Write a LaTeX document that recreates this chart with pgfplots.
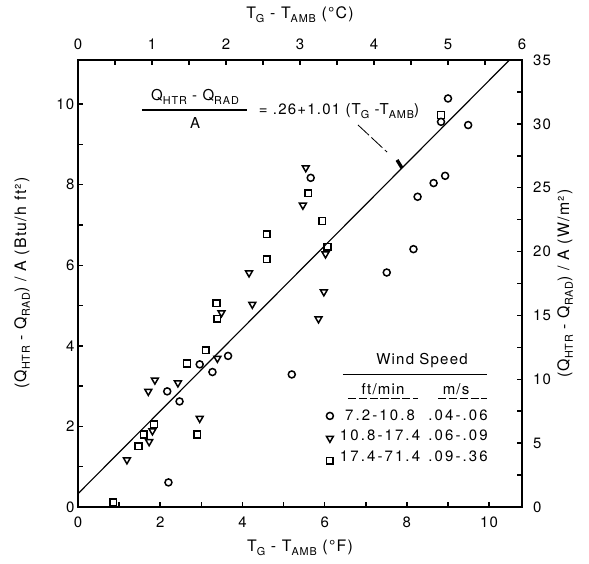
\documentclass[border=0pt]{standalone}
\usepackage{fontspec}
\setmainfont{TeX Gyre Heros}[LetterSpace=8]
\usepackage{pgfplots}
\pgfplotsset{compat=1.18}

\newcommand{\sub}[1]{\raisebox{-0.45ex}{\fontsize{6.5}{7}\selectfont #1}}
\newcommand{\fs}{\fontsize{9}{10}\selectfont}
\newcommand{\wide}{\addfontfeature{LetterSpace=14}}

\pgfplotsset{
  common/.style={
    scale only axis, width=266.4pt, height=268.2pt,
    tick align=inside, major tick length=3.2pt, minor tick length=3.2pt,
    every tick/.style={black, line width=0.9pt},
    axis line style={line width=1.2pt},
    tick label style={font=\fs},
    label style={font=\fontsize{9.5}{11}\selectfont},
    /pgf/number format/assume math mode=true,
  },
}

\begin{document}
\begin{tikzpicture}
% upper and right scales (deg C, W/m2)
\begin{axis}[common,
  xmin=0, xmax=6, ymin=0, ymax=35,
  xtick={0,...,6}, minor xtick={0.5,1.5,...,5.5},
  ytick={0,5,...,35}, minor ytick={2.5,7.5,...,32.5},
  xtick pos=right, ytick pos=right,
  xticklabel pos=right, yticklabel pos=right,
  xticklabel style={inner sep=0pt, anchor=south, yshift=6pt},
  yticklabel style={inner sep=0pt, anchor=west, xshift=6.5pt},
  xlabel={T\sub{G} - T\sub{AMB} (°C)},
  ylabel={(Q\sub{HTR} - Q\sub{RAD}) / A (W/m²)},
  xlabel style={at={(rel axis cs:0.5,1.1007)}, anchor=center},
  ylabel style={at={(rel axis cs:1.0968,0.50)}, anchor=center},
]
\end{axis}

% main scales (deg F, Btu/h ft2)
\begin{axis}[common,
  xmin=0, xmax=10.8, ymin=0, ymax=11.095,
  xtick={0,2,...,10}, minor xtick={1,3,...,9},
  ytick={0,2,...,10}, minor ytick={1,3,...,9},
  xtick pos=left, ytick pos=left,
  xticklabel style={inner sep=0pt, anchor=north, yshift=-6pt},
  yticklabel style={inner sep=0pt, anchor=east, xshift=-2pt},
  xlabel={T\sub{G} - T\sub{AMB} (°F)},
  ylabel={(Q\sub{HTR} - Q\sub{RAD}) / A (Btu/h ft²)},
  xlabel style={at={(rel axis cs:0.5,-0.0917)}, anchor=center},
  ylabel style={at={(rel axis cs:-0.126,0.501)}, anchor=center},
  legend style={at={(rel axis cs:0.569,0.2058)}, anchor=north west,
    xshift=-2.55pt, yshift=2.55pt, inner sep=0pt, outer sep=0pt,
    draw=none, fill=none, font=\fs, row sep=7.2pt,
    nodes={inner sep=0pt, outer sep=0pt}},
  legend image code/.code={\draw plot coordinates {(0pt,0pt)};},
  legend cell align=left,
]
\addplot[only marks, mark=o, mark size=2.1pt, mark options={line width=0.9pt}] coordinates {
(2.17,2.87) (2.20,0.61) (2.47,2.62) (2.96,3.54) (3.27,3.35) (3.65,3.75)
(5.20,3.29) (5.66,8.17) (7.51,5.82) (8.16,6.40) (8.26,7.70) (8.65,8.04)
(8.93,8.22) (8.83,9.56) (9.00,10.14) (9.49,9.48)
};
\addlegendentry{\phantom{x}}

\addplot[only marks, mark=triangle, mark size=2.4pt, mark options={rotate=180, line width=0.9pt}] coordinates {
(1.19,1.17) (1.73,1.62) (1.81,1.89) (1.71,2.87) (1.87,3.15) (2.43,3.08)
(2.96,2.20) (3.39,3.69) (3.49,4.82) (4.16,5.81) (4.24,5.03) (5.47,7.49)
(5.54,8.42) (5.85,4.67) (5.98,5.34) (6.02,6.28)
};
\addlegendentry{\phantom{x}}

\addplot[only marks, mark=square, mark size=2pt, mark options={line width=0.9pt}] coordinates {
(0.86,0.12) (1.47,1.51) (1.60,1.80) (1.85,2.05) (2.65,3.56) (2.90,1.80)
(3.11,3.89) (3.37,5.06) (3.39,4.67) (4.59,6.15) (4.59,6.77) (5.60,7.79)
(5.94,7.10) (6.07,6.46) (8.83,9.73)
};
\addlegendentry{\phantom{x}}

% fitted line
\addplot[line width=0.7pt, forget plot] coordinates {(0,0.33) (10.5,11.1)};

% equation
\node[font=\fs] at (rel axis cs:0.2635,0.917) {Q\sub{HTR} - Q\sub{RAD}};
\draw[line width=0.7pt] (rel axis cs:0.144,0.888) -- (rel axis cs:0.381,0.888);
\node[font=\fs] at (rel axis cs:0.2635,0.859) {A};
\node[font=\fs, anchor=west] at (rel axis cs:0.394,0.886) {= .26+1.01 (T\sub{G} -T\sub{AMB})};
\draw[line width=0.5pt, dash pattern=on 9pt off 2pt] (rel axis cs:0.6306,0.8546) -- (rel axis cs:0.696,0.794);
\draw[line width=2pt] (rel axis cs:0.7185,0.7763) -- (rel axis cs:0.7297,0.7584);

% legend header and text
\node[font=\fs] at (rel axis cs:0.7748,0.3266) {Wind Speed};
\draw[line width=0.8pt] (rel axis cs:0.5968,0.2969) -- (rel axis cs:0.9212,0.2969);
\node[font=\fs] at (rel axis cs:0.687,0.264) {ft/min};
\node[font=\fs] at (rel axis cs:0.8514,0.264) {m/s};
\draw[line width=0.6pt, dash pattern=on 5pt off 1.5pt] (rel axis cs:0.608,0.2432) -- (rel axis cs:0.7658,0.2432);
\draw[line width=0.6pt, dash pattern=on 5pt off 1.5pt] (rel axis cs:0.8108,0.2432) -- (rel axis cs:0.9212,0.2432);
\node[font=\fs\wide] at (rel axis cs:0.6802,0.2058) {7.2-10.8};
\node[font=\fs\wide] at (rel axis cs:0.8559,0.2058) {.04-.06};
\node[font=\fs\wide] at (rel axis cs:0.6802,0.1600) {10.8-17.4};
\node[font=\fs\wide] at (rel axis cs:0.8559,0.1600) {.06-.09};
\node[font=\fs\wide] at (rel axis cs:0.6802,0.1141) {17.4-71.4};
\node[font=\fs\wide] at (rel axis cs:0.8559,0.1141) {.09-.36};

\coordinate (bbl) at (rel axis cs:-0.1757,-0.1253);
\coordinate (btr) at (rel axis cs:1.1509,1.1342);
\end{axis}
\pgfresetboundingbox
\path (bbl) rectangle (btr);
\end{tikzpicture}
\end{document}
